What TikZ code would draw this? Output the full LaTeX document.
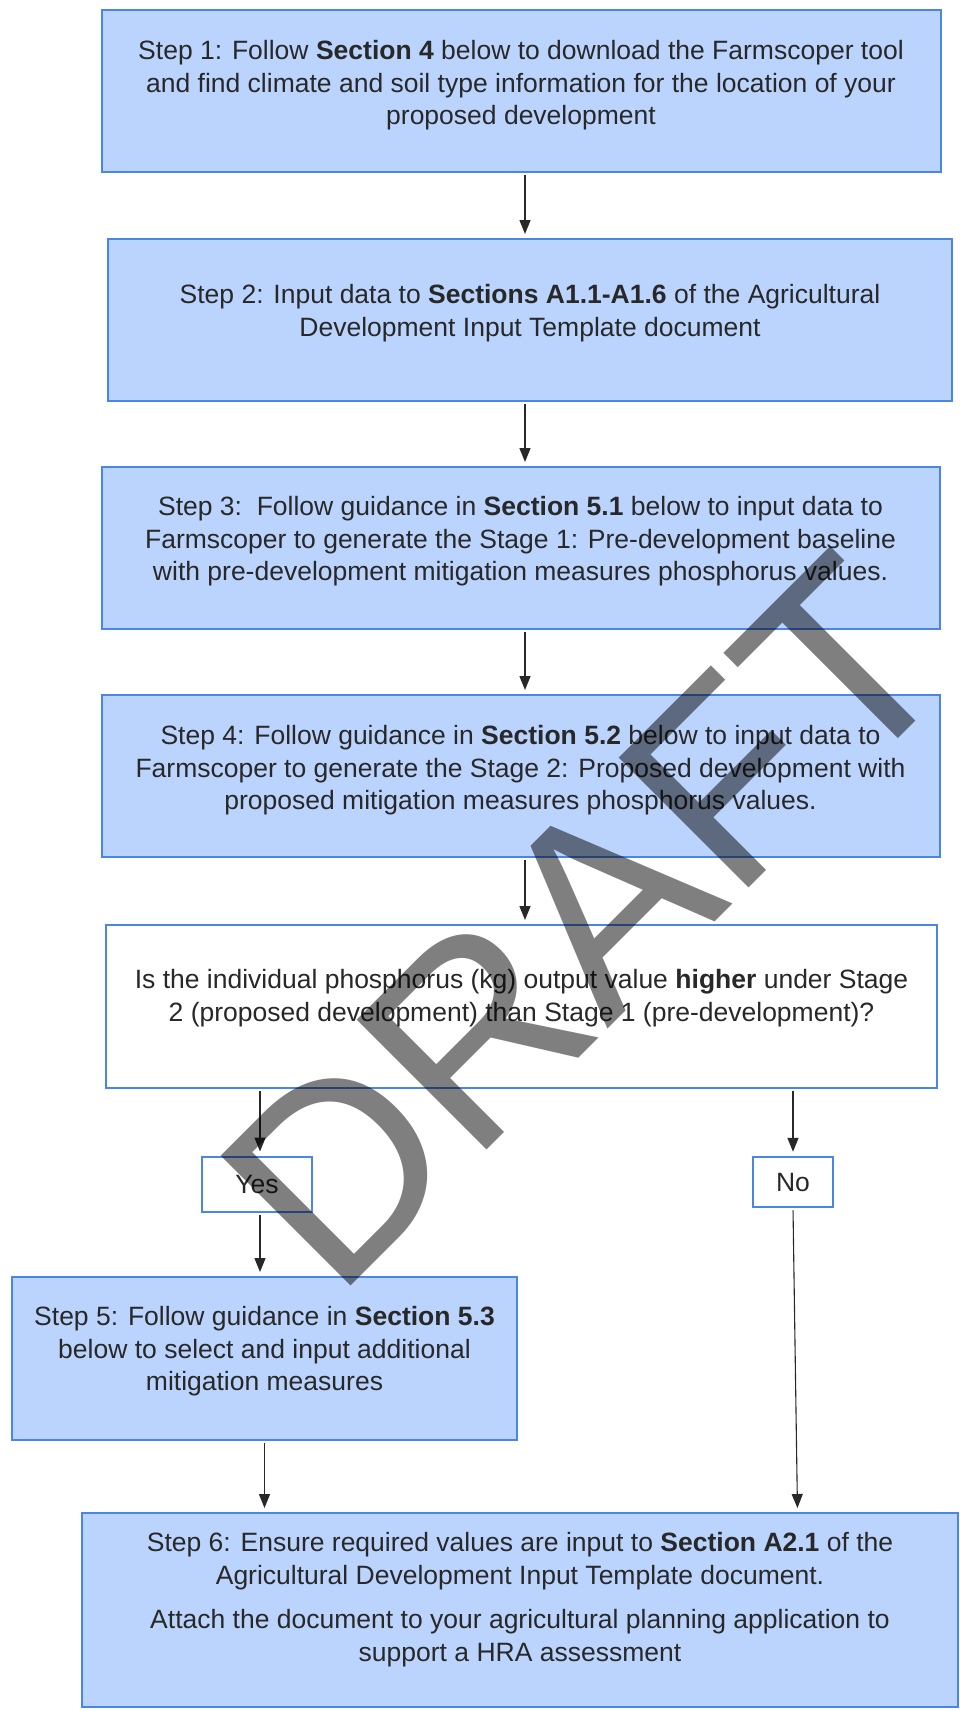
\documentclass[tikz,border=0pt]{standalone}
\usepackage{fontspec}
\setmainfont{Liberation Sans}
\usetikzlibrary{arrows.meta}
\definecolor{boxfill}{RGB}{187,212,253}
\definecolor{boxline}{RGB}{74,134,232}
\definecolor{txtc}{RGB}{40,40,40}
\newcommand{\bx}[4]{\begin{minipage}[c][#2][t]{#1}\centering\fontsize{26.5pt}{32.5pt}\selectfont\vspace*{#3}\strut #4\end{minipage}}
\tikzset{
  bluebox/.style={draw=boxline, line width=2pt, fill=boxfill, inner sep=0pt, text=txtc},
  whitebox/.style={draw=boxline, line width=2pt, fill=white, inner sep=0pt, text=txtc},
  smallbox/.style={draw=boxline, line width=2pt, fill=white, inner sep=0pt, text=txtc, font=\fontsize{26.5pt}{30pt}\selectfont},
  arr/.style={draw=txtc, line width=1.4pt, -{Triangle[length=14pt,width=11pt]}, shorten <=2pt, shorten >=4pt},
  wm/.style={text=black, text opacity=0.5, inner sep=0pt, font=\fontsize{267pt}{267pt}\selectfont}
}
\begin{document}
\begin{tikzpicture}[x=1pt,y=-1pt]
\useasboundingbox (0,0) rectangle (960,1711);
\fill[white] (0,0) rectangle (960,1711);
\node[bluebox] (b1) at (521,91) {\bx{839pt}{162pt}{27pt}{Step 1: Follow \textbf{Section 4} below to download the Farmscoper tool\\and find climate and soil type information for the location of your\\proposed development}};
\node[bluebox] (b2) at (530,320) {\bx{844pt}{162pt}{42pt}{Step 2: Input data to \textbf{Sections A1.1-A1.6} of the Agricultural\\Development Input Template document}};
\node[bluebox] (b3) at (520.5,548) {\bx{838pt}{162pt}{26pt}{Step 3:\ \ Follow guidance in \textbf{Section 5.1} below to input data to\\Farmscoper to generate the Stage 1: Pre-development baseline\\with pre-development mitigation measures phosphorus values.}};
\node[bluebox] (b4) at (520.5,776) {\bx{838pt}{162pt}{27pt}{Step 4: Follow guidance in \textbf{Section 5.2} below to input data to\\Farmscoper to generate the Stage 2: Proposed development with\\proposed mitigation measures phosphorus values.}};
\node[whitebox] (b5) at (521.5,1006.5) {\bx{831pt}{163pt}{41pt}{Is the individual phosphorus (kg) output value \textbf{higher} under Stage\\2 (proposed development) than Stage 1 (pre-development)?}};
\node[smallbox, minimum width=110pt, minimum height=55pt] (yes) at (257,1184) {Yes};
\node[smallbox, minimum width=80.5pt, minimum height=50.5pt] (no) at (793,1182) {No};
\node[bluebox] (b6) at (264.5,1358.5) {\bx{505pt}{163pt}{26pt}{Step 5: Follow guidance in \textbf{Section 5.3}\\below to select and input additional\\mitigation measures}};
\node[bluebox] (b7) at (520,1610) {\bx{876pt}{194pt}{16pt}{Step 6: Ensure required values are input to \textbf{Section A2.1} of the\\Agricultural Development Input Template document.\par\vspace{12pt}\strut Attach the document to your agricultural planning application to\\support a HRA assessment}};
\draw[arr] ([xshift=4pt]b1.south) -- ([xshift=-5pt]b2.north);
\draw[arr] ([xshift=-5pt]b2.south) -- ([xshift=4.5pt]b3.north);
\draw[arr] ([xshift=4.5pt]b3.south) -- ([xshift=4.5pt]b4.north);
\draw[arr] ([xshift=4.5pt]b4.south) -- ([xshift=3.5pt]b5.north);
\draw[arr] ([xshift=-261.5pt]b5.south) -- ([xshift=3pt]yes.north);
\draw[arr] ([xshift=271.5pt]b5.south) -- (no.north);
\draw[arr] ([xshift=3pt]yes.south) -- ([xshift=-4.5pt]b6.north);
\draw[arr] (b6.south) -- ([xshift=-255.5pt]b7.north);
\draw[arr, line width=1.1pt] (no.south) -- ([xshift=277.5pt]b7.north);
\node[wm, rotate=45, anchor=base west] (draft) at (335,1302) {DRAFT};
\end{tikzpicture}
\end{document}
